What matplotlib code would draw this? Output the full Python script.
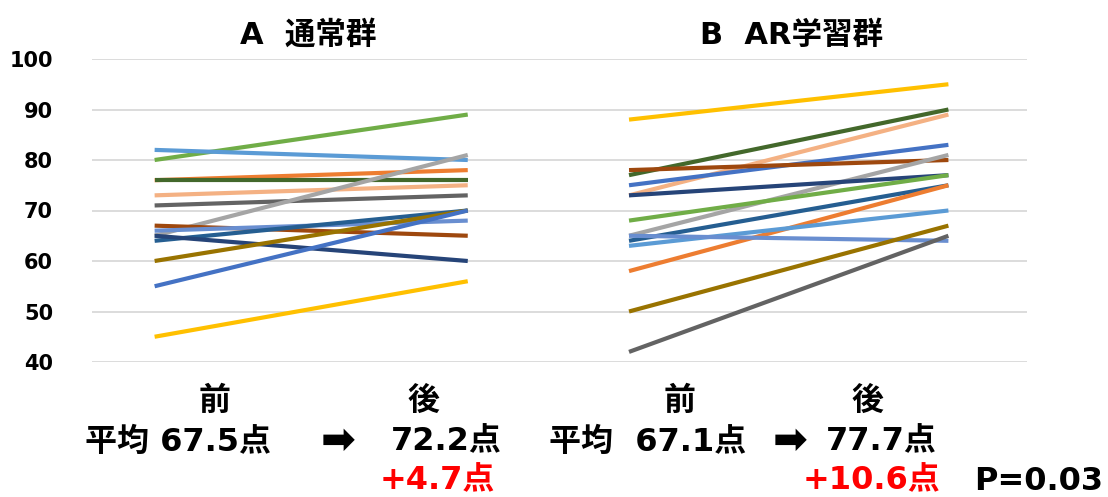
import matplotlib
matplotlib.use("Agg")
import matplotlib.pyplot as plt

FAM = ['DejaVu Sans', 'Noto Sans CJK JP']
plt.rcParams['font.family'] = FAM

# ---- data ----
group_titles = ["A  通常群", "B  AR学習群"]
yticks = [40, 50, 60, 70, 80, 90, 100]

a_before = [80, 82, 76, 76, 73, 71, 65, 67, 66, 64, 65, 60, 55, 45]
a_after  = [89, 80, 78, 76, 75, 73, 81, 65, 68, 70, 60, 70, 70, 56]
a_colors = ["#70AD47", "#5B9BD5", "#ED7D31", "#43682B", "#F4B183", "#636363",
            "#A5A5A5", "#9E480E", "#698ED0", "#255E91", "#264478", "#997300",
            "#4472C4", "#FFC000"]

b_before = [88, 77, 73, 75, 78, 65, 73, 68, 64, 58, 63, 65, 50, 42]
b_after  = [95, 90, 89, 83, 80, 81, 77, 77, 75, 75, 70, 64, 67, 65]
b_colors = ["#FFC000", "#43682B", "#F4B183", "#4472C4", "#9E480E", "#A5A5A5",
            "#264478", "#70AD47", "#255E91", "#ED7D31", "#5B9BD5", "#698ED0",
            "#997300", "#636363"]

phase_labels = ["前", "後"]
summary_a = ["平均 67.5点", "72.2点", "+4.7点"]
summary_b = ["平均  67.1点", "77.7点", "+10.6点"]
p_text = "P=0.03"
arrow = "➡"

# ---- layout ----
W, H = 1108, 497
fig = plt.figure(figsize=(W / 100, H / 100), dpi=100)

def fx(px):
    return px / W

def fy(py):
    return 1 - py / H

ax_left, ax_right, ax_top, ax_bot = 92, 1027, 59, 362
ax = fig.add_axes([fx(ax_left), fy(ax_bot), (ax_right - ax_left) / W, (ax_bot - ax_top) / H])

xa = [0.0, 1.0]
xb = [1.515, 2.535]

for yv in yticks:
    ax.axhline(yv, color="#D9D9D9", lw=1.3, zorder=0)

for b, a, c in zip(a_before, a_after, a_colors):
    ax.plot(xa, [b, a], color=c, lw=3.0, solid_capstyle="butt", zorder=2)
for b, a, c in zip(b_before, b_after, b_colors):
    ax.plot(xb, [b, a], color=c, lw=3.0, solid_capstyle="butt", zorder=2)

ax.set_xlim(-0.2, 2.786)
ax.set_ylim(40, 100)
ax.set_yticks(yticks)
ax.set_yticklabels([str(v) for v in yticks], fontsize=15, fontweight="bold")
ax.tick_params(axis="y", length=0, pad=28)
ax.set_xticks([])
for s in ax.spines.values():
    s.set_visible(False)

# titles
fig.text(fx(308), fy(35), group_titles[0], ha="center", va="center", fontsize=22, fontweight="bold")
fig.text(fx(791), fy(35), group_titles[1], ha="center", va="center", fontsize=22, fontweight="bold")

# bottom texts
fs = 23
kw = dict(fontsize=fs, fontweight="bold", va="center")
fig.text(fx(215), fy(401), phase_labels[0], ha="center", **kw)
fig.text(fx(424), fy(401), phase_labels[1], ha="center", **kw)
fig.text(fx(680), fy(401), phase_labels[0], ha="center", **kw)
fig.text(fx(868), fy(401), phase_labels[1], ha="center", **kw)

fig.text(fx(85), fy(442), summary_a[0], ha="left", **kw)
fig.text(fx(338), fy(441), arrow, ha="center", va="center", fontsize=30, fontweight="bold")
fig.text(fx(502), fy(442), summary_a[1], ha="right", **kw)
fig.text(fx(495), fy(481), summary_a[2], ha="right", color="#FF0000", **kw)

fig.text(fx(549), fy(442), summary_b[0], ha="left", **kw)
fig.text(fx(790), fy(441), arrow, ha="center", va="center", fontsize=30, fontweight="bold")
fig.text(fx(937), fy(442), summary_b[1], ha="right", **kw)
fig.text(fx(940), fy(481), summary_b[2], ha="right", color="#FF0000", **kw)
fig.text(fx(1103), fy(481), p_text, ha="right", **kw)

fig.savefig("out.png", dpi=100)
